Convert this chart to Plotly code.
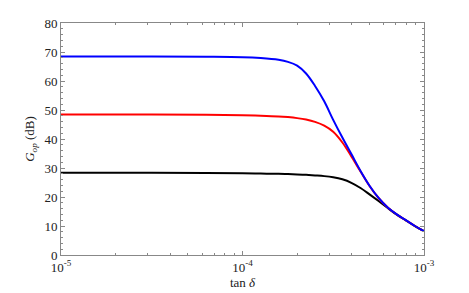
import plotly.graph_objects as go

tan_delta = [1.00e-5, 3.16e-5, 6.31e-5, 1.00e-4, 1.26e-4, 1.58e-4, 1.78e-4, 2.00e-4,
             2.24e-4, 2.51e-4, 2.82e-4, 3.16e-4, 3.55e-4, 3.98e-4, 4.47e-4, 5.01e-4,
             5.62e-4, 6.31e-4, 7.08e-4, 7.94e-4, 8.91e-4, 1.00e-3]

g_blue = [68.45, 68.42, 68.35, 68.2, 67.9, 67.3, 66.6, 65.3, 62.6, 58.3, 53.0, 46.6,
          40.5, 34.8, 29.0, 23.9, 19.7, 16.4, 14.0, 12.0, 10.0, 8.2]
g_red = [48.45, 48.42, 48.35, 48.2, 48.05, 47.8, 47.55, 47.2, 46.7, 45.9, 44.6, 42.5,
         38.8, 34.0, 28.8, 23.8, 19.65, 16.35, 13.95, 11.98, 10.0, 8.2]
g_black = [28.35, 28.32, 28.25, 28.15, 28.08, 27.98, 27.9, 27.8, 27.65, 27.45, 27.2, 26.8,
           26.1, 24.9, 23.1, 20.9, 18.6, 16.2, 13.9, 11.95, 9.98, 8.2]

x_major = [1e-5, 1e-4, 1e-3]
x_major_text = ["10<sup>-5</sup>", "10<sup>-4</sup>", "10<sup>-3</sup>"]
x_minor = [m * 10**e for e in (-5, -4) for m in range(2, 10)]
y_ticks = [0, 10, 20, 30, 40, 50, 60, 70, 80]

fig = go.Figure()
for ys, col in [(g_black, "black"), (g_red, "#ff0000"), (g_blue, "#0000ff")]:
    fig.add_trace(go.Scatter(x=tan_delta, y=ys, mode="lines",
                             line=dict(color=col, width=2, shape="spline", smoothing=1),
                             showlegend=False, hoverinfo="skip"))

axis_font = dict(family="Liberation Serif", size=13, color="#222")
fig.update_layout(
    width=461, height=285,
    margin=dict(l=53, r=45, t=15, b=38, autoexpand=False),
    paper_bgcolor="white", plot_bgcolor="white",
    font=axis_font,
    xaxis=dict(type="log", range=[-5, -3], tickvals=x_major, ticktext=x_major_text,
               automargin=False,
               ticks="inside", ticklen=4, tickcolor="#888", mirror="allticks",
               showline=True, linecolor="#888", linewidth=1, showgrid=False, zeroline=False,
               minor=dict(tickvals=x_minor, ticks="inside", ticklen=2, tickcolor="#888", showgrid=False),
               title=dict(text="tan <i>δ</i>", standoff=2, font=axis_font),
               tickfont=axis_font),
    yaxis=dict(range=[0, 80], tickvals=y_ticks, automargin=False,
               ticks="inside", ticklen=4, tickcolor="#888", mirror="allticks",
               showline=True, linecolor="#888", linewidth=1, showgrid=False, zeroline=False,
               minor=dict(dtick=2, ticks="inside", ticklen=2, tickcolor="#888", showgrid=False),
               title=dict(text="<i>G</i><sub><i>op</i></sub> (dB)", standoff=6, font=axis_font),
               tickfont=axis_font),
)
fig.write_html("out.html")
